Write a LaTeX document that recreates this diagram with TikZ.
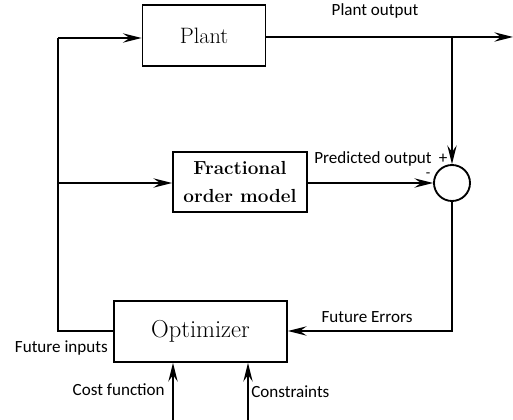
\documentclass[tikz,border=0pt]{standalone}
\usepackage{fontspec}
\setmainfont{Latin Modern Roman}
\newfontfamily\labelfont{Carlito}
\usetikzlibrary{arrows.meta}
\tikzset{
  blk/.style={draw, line width=1.4pt, inner sep=0pt},
  conn/.style={line width=1.5pt},
  arr/.style={conn, -{Stealth[length=14pt,width=7pt,inset=5pt]}},
  lbl/.style={font=\labelfont\fontsize{12.8}{15}\selectfont, inner sep=0pt},
}
\begin{document}
\begin{tikzpicture}[x=0.75pt,y=-0.75pt]
\useasboundingbox (0,0) rectangle (513,420);
% blocks
\node[blk, minimum width=123*0.75pt, minimum height=61*0.75pt, font=\fontsize{16.7}{20}\selectfont] (plant) at (204,35.5) {Plant};
\node[blk, minimum width=134*0.75pt, minimum height=60*0.75pt, font=\bfseries\fontsize{14.2}{21}\selectfont, align=center] (frac) at (240,182) {Fractional\\order model};
\node[blk, minimum width=173*0.75pt, minimum height=61*0.75pt, font=\fontsize{18.4}{21}\selectfont] (opt) at (200.5,331.5) {Optimizer};
\node[draw, circle, line width=1.4pt, minimum size=36*0.75pt, inner sep=0pt] (sum) at (452,183) {};
% coordinates
\coordinate (out) at (513,37);
\coordinate (br) at (452,37);
\coordinate (lt) at (58,38);
\coordinate (lm) at (58,183);
\coordinate (lb) at (58,331);
\coordinate (rb) at (452,331);
\coordinate (cf) at (173,420);
\coordinate (cs) at (248,420);
% connectors
\draw[arr] (plant.east |- out) -- (out);
\draw[arr] (br) -- (sum.north);
\draw[arr] (frac.east |- sum.west) -- (sum.west);
\draw[arr] (sum.south) -- (rb) -- (opt.east |- rb);
\draw[conn] (opt.west |- lb) -- (lb) -- (lt);
\draw[arr] (lt) -- (plant.west |- lt);
\draw[arr] (lm) -- (frac.west |- lm);
\draw[arr] (cf) -- (opt.south -| cf);
\draw[arr] (cs) -- (opt.south -| cs);
% labels
\node[lbl] (lpo) at (375,11) {Plant output};
\node[lbl] (lpr) at (373,159) {Predicted output};
\node[lbl] (lplus) at (443,159) {+};
\node[lbl, font=\labelfont\fontsize{11}{12}\selectfont] (lminus) at (428,175) {-};
\node[lbl] (lfe) at (367,317) {Future Errors};
\node[lbl, anchor=east] (lfi) at (108,348) {Future inputs};
\node[lbl, anchor=east] (lcf) at (165,390) {Cost function};
\node[lbl, anchor=west] (lcs) at (251,392) {Constraints};
\end{tikzpicture}
\end{document}
